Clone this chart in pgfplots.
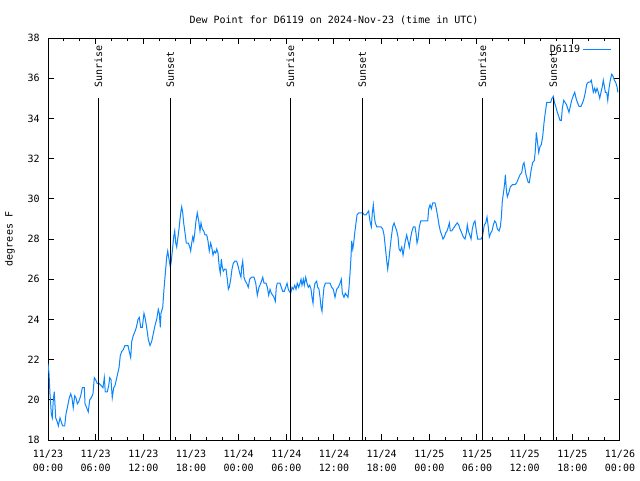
\documentclass[border=0pt]{standalone}
\usepackage{fontspec}
\setmainfont{DejaVu Sans Mono}
\usepackage{pgfplots}
\pgfplotsset{compat=1.18}
\definecolor{dp}{RGB}{10,132,255}
\newcommand{\gfont}{\fontsize{7.5}{10.5}\selectfont}
\begin{document}
\begin{tikzpicture}[x=1pt,y=1pt]
\path[use as bounding box] (0,0) rectangle (480,360);
\begin{axis}[
 at={(36pt,30pt)}, anchor=south west,
 scale only axis, width=429pt, height=301.5pt,
 xmin=0, xmax=72, ymin=18, ymax=38,
 xtick={0,6,...,72},
 xticklabels={{11/23\\00:00},{11/23\\06:00},{11/23\\12:00},{11/23\\18:00},{11/24\\00:00},{11/24\\06:00},{11/24\\12:00},{11/24\\18:00},{11/25\\00:00},{11/25\\06:00},{11/25\\12:00},{11/25\\18:00},{11/26\\00:00}},
 minor x tick num=2,
 ytick={18,20,...,38},
 tick align=inside,
 major tick length=4.5pt, minor tick length=2.25pt,
 tick style={black, line width=0.75pt},
 axis line style={line width=0.75pt},
 every tick label/.append style={font=\gfont},
 xticklabel style={align=center, inner sep=0pt, yshift=-7.5pt},
 yticklabel style={inner sep=0pt, xshift=-6pt},
 /pgf/number format/assume math mode=true,
 title={Dew Point for D6119 on 2024-Nov-23 (time in UTC)},
 title style={at={(axis description cs:0.5,1)}, anchor=center, yshift=7.5pt, inner sep=0pt, font=\gfont},
 ylabel={degrees F},
 ylabel style={at={(axis description cs:0,0.5)}, anchor=center, yshift=28.5pt, inner sep=0pt, font=\gfont},
 legend plot pos=right,
 legend cell align=right,
 legend style={draw=none, fill=none, at={(axis description cs:1,1)}, anchor=north east, xshift=-6pt, yshift=-3pt, inner sep=0pt, font=\gfont},
 legend image code/.code={\draw[#1, line width=0.75pt] (0pt,0pt) -- (21pt,0pt);},
]
\addplot[dp, line width=0.75pt] table {
x y
0.00 21.8
0.13 21.3
0.25 20.3
0.42 19.3
0.54 19.1
0.67 20.0
0.79 20.4
0.97 19.1
1.17 18.9
1.30 18.7
1.51 19.1
1.67 18.9
1.85 18.7
2.10 18.7
2.27 19.3
2.43 19.6
2.68 20.1
2.86 20.3
3.02 20.1
3.18 19.6
3.36 20.2
3.52 20.1
3.69 19.8
3.86 19.9
4.12 20.2
4.32 20.6
4.57 20.6
4.66 19.8
4.87 19.6
5.07 19.4
5.25 20.0
5.45 20.1
5.66 20.3
5.83 21.1
6.00 21.0
6.21 20.8
6.46 20.8
6.71 20.7
6.92 20.6
7.09 21.1
7.21 20.4
7.46 20.4
7.64 20.7
7.77 21.1
7.93 21.0
8.09 20.1
8.27 20.6
8.43 20.7
8.60 21.0
8.77 21.3
8.94 21.6
9.10 22.2
9.28 22.4
9.48 22.5
9.69 22.7
10.07 22.7
10.23 22.4
10.41 22.1
10.54 22.9
10.74 23.2
10.95 23.4
11.12 23.6
11.33 24.0
11.49 24.1
11.67 23.6
11.87 23.6
12.08 24.3
12.21 24.1
12.42 23.6
12.63 23.0
12.84 22.7
13.05 22.9
13.26 23.3
13.47 23.7
13.68 24.0
13.88 24.5
14.01 24.3
14.14 23.6
14.22 24.3
14.44 24.6
14.60 25.5
14.77 26.3
14.94 27.1
15.07 27.4
15.23 27.0
15.40 26.6
15.52 26.9
15.65 27.4
15.82 28.1
15.95 28.4
16.08 27.8
16.20 27.6
16.36 28.1
16.49 28.5
16.62 29.0
16.74 29.4
16.83 29.6
16.96 29.3
17.08 28.8
17.25 28.3
17.41 27.8
17.66 27.8
17.84 27.6
17.96 27.4
18.09 27.8
18.22 28.1
18.34 27.9
18.47 28.3
18.63 28.9
18.79 29.3
18.97 28.9
19.13 28.4
19.26 28.8
19.42 28.5
19.60 28.4
19.76 28.2
19.98 28.2
20.14 27.9
20.30 27.4
20.48 27.8
20.61 27.6
20.77 27.2
20.93 27.4
21.11 27.3
21.24 27.5
21.40 27.3
21.56 26.6
21.69 26.3
21.82 27.0
21.94 26.6
22.07 26.4
22.24 26.5
22.41 26.5
22.57 26.0
22.70 25.5
22.82 25.6
23.00 26.0
23.16 26.5
23.33 26.8
23.54 26.9
23.75 26.9
23.96 26.6
24.13 26.3
24.29 26.1
24.38 26.6
24.51 26.9
24.67 26.1
24.84 25.9
25.01 25.8
25.21 25.6
25.39 26.0
25.64 26.1
25.93 26.1
26.15 25.8
26.35 25.2
26.56 25.6
26.78 25.8
27.03 26.1
27.19 25.8
27.44 25.8
27.61 25.6
27.78 25.2
27.95 25.5
28.11 25.3
28.29 25.2
28.45 25.1
28.61 24.9
28.74 25.6
28.86 25.8
29.20 25.8
29.37 25.6
29.54 25.4
29.75 25.4
29.92 25.6
30.09 25.8
30.25 25.5
30.37 25.4
30.55 25.3
30.72 25.6
30.88 25.5
31.06 25.7
31.22 25.5
31.38 25.8
31.56 25.6
31.72 25.8
31.85 26.0
31.97 25.7
32.14 26.0
32.26 25.7
32.44 26.1
32.60 25.8
32.77 25.6
32.94 25.7
33.11 25.5
33.23 25.1
33.36 24.8
33.48 25.5
33.61 25.8
33.82 25.9
33.95 25.6
34.11 25.5
34.24 25.1
34.37 24.6
34.49 24.4
34.62 25.1
34.74 25.6
34.91 25.8
35.28 25.8
35.50 25.8
35.71 25.6
35.91 25.5
36.13 25.1
36.34 25.5
36.54 25.6
36.76 25.8
36.92 26.0
37.05 25.3
37.26 25.1
37.42 25.3
37.60 25.2
37.76 25.1
37.89 25.6
38.02 26.3
38.14 27.1
38.23 27.9
38.36 27.5
38.48 27.8
38.61 28.3
38.77 28.8
38.90 29.2
39.11 29.3
39.36 29.3
39.62 29.3
39.82 29.2
40.03 29.2
40.19 29.3
40.37 29.4
40.45 29.1
40.57 28.8
40.70 28.6
40.82 29.3
40.95 29.7
41.08 29.1
41.20 28.8
41.38 28.6
41.63 28.6
41.92 28.6
42.13 28.5
42.30 28.2
42.46 27.6
42.64 26.9
42.76 26.5
42.89 26.9
43.05 27.5
43.22 28.1
43.39 28.6
43.56 28.8
43.72 28.6
43.90 28.4
44.06 28.1
44.19 27.5
44.35 27.4
44.53 27.6
44.69 27.2
44.81 27.5
44.98 27.9
45.15 28.2
45.32 27.9
45.48 27.6
45.66 28.1
45.82 28.4
45.99 28.6
46.20 28.6
46.32 28.3
46.45 27.8
46.58 28.0
46.74 28.6
46.92 28.9
47.46 28.9
47.80 28.9
47.92 29.5
48.09 29.7
48.25 29.5
48.43 29.8
48.71 29.8
48.88 29.5
49.06 29.1
49.22 28.7
49.38 28.4
49.56 28.2
49.72 28.0
49.89 28.1
50.06 28.3
50.23 28.4
50.39 28.6
50.52 28.8
50.64 28.4
50.82 28.4
50.98 28.5
51.15 28.6
51.32 28.7
51.52 28.8
51.70 28.7
51.86 28.5
52.08 28.3
52.28 28.1
52.49 28.0
52.66 28.3
52.78 28.7
52.91 28.4
53.09 28.2
53.25 28.0
53.41 28.5
53.59 28.8
53.75 28.9
53.92 28.4
54.09 28.0
54.25 28.0
54.51 28.0
54.67 28.1
54.80 28.4
54.92 28.7
55.10 28.8
55.26 29.1
55.39 28.7
55.55 28.1
55.73 28.3
55.89 28.4
56.06 28.7
56.23 28.9
56.40 28.8
56.56 28.5
56.77 28.4
56.94 28.6
57.07 29.1
57.19 29.9
57.37 30.4
57.49 30.8
57.57 31.2
57.70 30.4
57.82 30.1
58.00 30.3
58.20 30.6
58.45 30.7
58.79 30.7
59.00 30.8
59.20 31.0
59.42 31.2
59.63 31.3
59.79 31.7
59.92 31.8
60.17 31.2
60.46 30.8
60.59 30.8
60.80 31.4
61.01 31.8
61.22 31.9
61.34 32.4
61.47 33.3
61.59 32.9
61.77 32.3
61.93 32.6
62.10 32.7
62.27 33.1
62.44 33.8
62.60 34.3
62.78 34.8
63.03 34.8
63.28 34.8
63.44 35.0
63.61 35.1
63.74 34.8
63.91 34.6
64.11 34.3
64.29 34.1
64.45 33.9
64.62 33.9
64.74 34.5
64.92 34.9
65.08 34.8
65.25 34.7
65.42 34.5
65.58 34.3
65.75 34.6
65.92 34.9
66.09 35.1
66.30 35.3
66.47 35.0
66.63 34.8
66.85 34.6
67.10 34.6
67.31 34.8
67.47 35.0
67.64 35.3
67.81 35.7
68.01 35.8
68.23 35.8
68.39 35.9
68.52 35.6
68.64 35.3
68.82 35.5
68.95 35.3
69.11 35.5
69.27 35.3
69.45 35.0
69.61 35.3
69.78 35.6
69.90 35.9
70.03 35.6
70.16 35.3
70.33 35.3
70.46 34.9
70.62 35.5
70.78 35.9
70.96 36.2
71.12 36.1
71.29 35.9
71.45 35.8
71.61 35.6
71.74 35.3
};
\addlegendentry{D6119}
\addplot[black, line width=0.75pt, forget plot] coordinates {(6.33,18) (6.33,35)};
\addplot[black, line width=0.75pt, forget plot] coordinates {(15.40,18) (15.40,35)};
\addplot[black, line width=0.75pt, forget plot] coordinates {(30.50,18) (30.50,35)};
\addplot[black, line width=0.75pt, forget plot] coordinates {(39.57,18) (39.57,35)};
\addplot[black, line width=0.75pt, forget plot] coordinates {(54.67,18) (54.67,35)};
\addplot[black, line width=0.75pt, forget plot] coordinates {(63.61,18) (63.61,35)};
\node[rotate=90, anchor=west, inner sep=0pt, font=\gfont] at (axis cs:6.33,35.5) {Sunrise};
\node[rotate=90, anchor=west, inner sep=0pt, font=\gfont] at (axis cs:15.40,35.5) {Sunset};
\node[rotate=90, anchor=west, inner sep=0pt, font=\gfont] at (axis cs:30.50,35.5) {Sunrise};
\node[rotate=90, anchor=west, inner sep=0pt, font=\gfont] at (axis cs:39.57,35.5) {Sunset};
\node[rotate=90, anchor=west, inner sep=0pt, font=\gfont] at (axis cs:54.67,35.5) {Sunrise};
\node[rotate=90, anchor=west, inner sep=0pt, font=\gfont] at (axis cs:63.61,35.5) {Sunset};
\end{axis}
\end{tikzpicture}
\end{document}
